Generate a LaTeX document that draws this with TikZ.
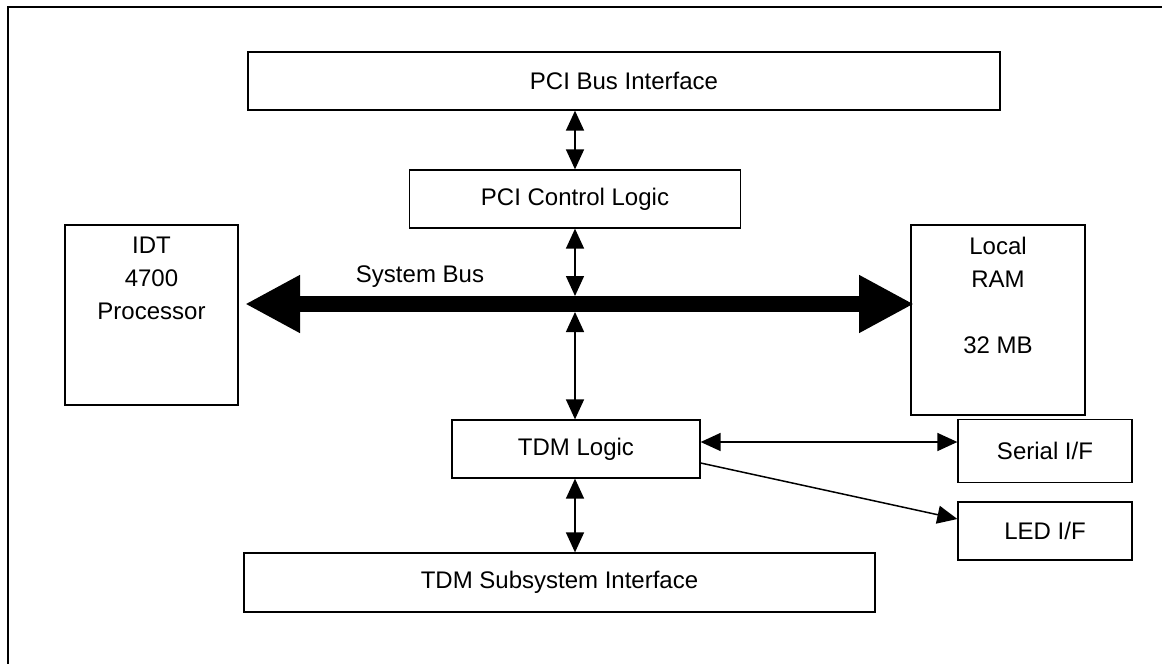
\documentclass[tikz,border=0pt]{standalone}
\usepackage{fontspec}
\setmainfont{Liberation Sans}
\usetikzlibrary{arrows.meta}
\begin{document}
\begin{tikzpicture}[x=1pt,y=-1pt,
  box/.style={draw, line width=1.3pt, inner sep=0pt, font=\fontsize{24}{33}\selectfont, align=center},
  lbl/.style={inner sep=0pt, font=\fontsize{24}{33}\selectfont, align=center},
  conn/.style={line width=1.5pt, {Triangle[length=20pt,width=18pt]}-{Triangle[length=20pt,width=18pt]}},
  oneway/.style={line width=1.5pt, -{Triangle[length=20pt,width=18pt]}},
  bus/.style={line width=16pt, {Triangle[length=55pt,width=54pt]}-{Triangle[length=55pt,width=54pt]}}]
\useasboundingbox (0,0) rectangle (1162,664);
\draw[line width=2.5pt] (8,664) -- (8,7) -- (1162,7);
% boxes
\node[box, minimum width=752pt, minimum height=58pt] (pcibus) at (624,81) {PCI Bus Interface};
\node[box, minimum width=331pt, minimum height=58pt] (pcictrl) at (575,199) {PCI Control Logic};
\node[box, minimum width=173pt, minimum height=180pt] (cpu) at (151.5,315) {};
\node[lbl, anchor=north] (cput) at (151.5,237) {IDT\\4700\\Processor};
\node[box, minimum width=174pt, minimum height=190pt] (ram) at (998,320) {};
\node[lbl, anchor=north] (ramt) at (998,237) {Local\\RAM\\\strut\\32 MB};
\node[box, minimum width=248pt, minimum height=58pt] (tdm) at (576,449) {TDM Logic};
\node[box, minimum width=174pt, minimum height=63pt] (serial) at (1045,451) {Serial I/F};
\node[box, minimum width=174pt, minimum height=58pt] (led) at (1045,531) {LED I/F};
\node[box, minimum width=631pt, minimum height=59pt] (tdmsub) at (559.5,582.5) {TDM Subsystem Interface};
% system bus
\coordinate (busl) at (245,304);
\coordinate (busr) at (914,304);
\coordinate (bustop) at (575,296);
\coordinate (busbot) at (575,312);
\draw[bus] (busl) -- (busr);
\node[lbl] (buslbl) at (420,277) {System Bus};
% connectors
\draw[conn] (pcictrl.north) -- (pcictrl.north |- pcibus.south);
\draw[conn] (pcictrl.south) -- (bustop);
\draw[conn] (busbot) -- (tdm.north -| busbot);
\draw[conn] (tdm.south -| busbot) -- (tdmsub.north -| busbot);
\coordinate (sy) at (0,442);
\draw[conn] (tdm.east |- sy) -- (serial.west |- sy);
\coordinate (ly1) at (0,463);
\coordinate (ly2) at (0,519);
\draw[oneway] (tdm.east |- ly1) -- (led.west |- ly2);
\end{tikzpicture}
\end{document}
